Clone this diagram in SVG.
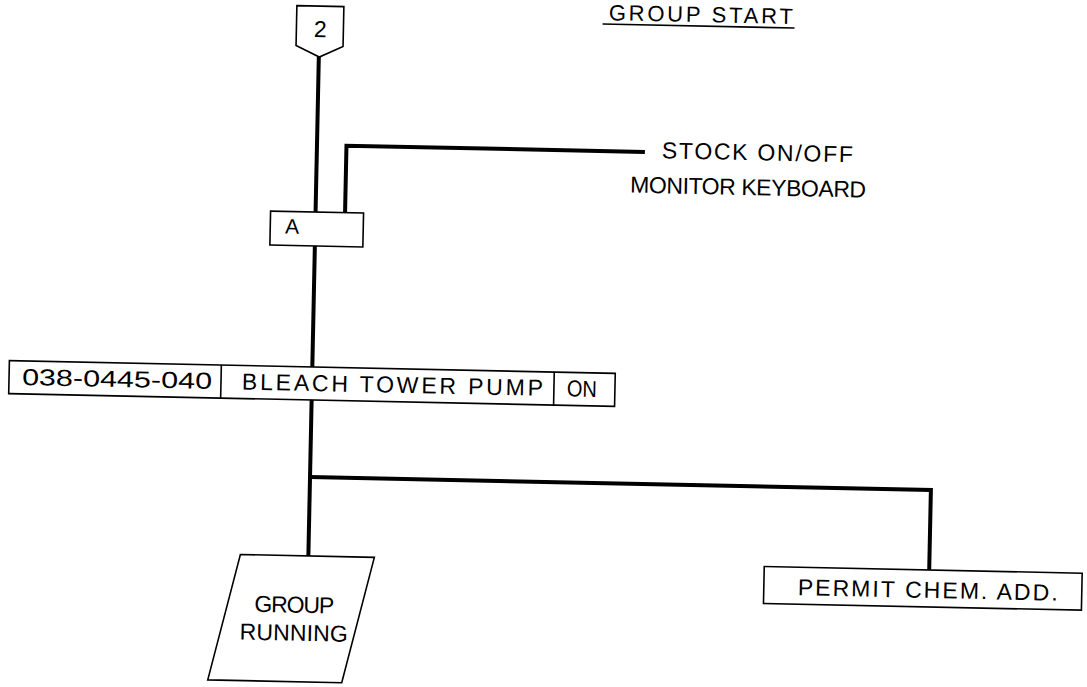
<svg xmlns="http://www.w3.org/2000/svg" width="1087" height="687" viewBox="0 0 1087 687">
<style>
.bx{fill:#fff;stroke:#000;stroke-width:1.6}
.cn{fill:none;stroke:#000;stroke-width:4}
.t{font-family:"Liberation Sans",Arial,sans-serif;font-size:23px;fill:#000}
</style>
<rect width="1087" height="687" fill="#fff"/>
<g transform="rotate(1.2 311 478)">
<g id="connectors">
<path class="cn" d="M310 57V212"/>
<path class="cn" d="M310 246V367"/>
<path class="cn" d="M310 400V556"/>
<path class="cn" d="M310 477H931V557"/>
<path class="cn" d="M339.5 212V145H638"/>
</g>
<g id="off-page-2">
<polygon class="bx" points="287,6 334,6 334,46 310.5,57 287,46"/>
<text class="t" x="311" y="37" text-anchor="middle">2</text>
</g>
<g id="group-start">
<text class="t" x="599" y="14" textLength="184" lengthAdjust="spacing" style="font-size:22px">GROUP START</text>
<line x1="593" y1="18" x2="785" y2="18" stroke="#000" stroke-width="1.6"/>
</g>
<g id="stock-label">
<text class="t" x="655" y="151" textLength="191" lengthAdjust="spacing">STOCK ON/OFF</text>
<text class="t" x="624" y="186" textLength="236" lengthAdjust="spacing">MONITOR KEYBOARD</text>
</g>
<g id="node-a">
<rect class="bx" x="265" y="212" width="93" height="34"/>
<text class="t" x="280" y="234" style="font-size:21px">A</text>
</g>
<g id="bleach-tower-pump">
<rect class="bx" x="7" y="367" width="606" height="33"/>
<line x1="219" y1="367" x2="219" y2="400" stroke="#000" stroke-width="1.6"/>
<line x1="552" y1="367" x2="552" y2="400" stroke="#000" stroke-width="1.6"/>
<text class="t" x="20" y="391" textLength="190" lengthAdjust="spacingAndGlyphs">038-0445-040</text>
<text class="t" x="240" y="391" textLength="301" lengthAdjust="spacing">BLEACH TOWER PUMP</text>
<text class="t" x="565" y="391" textLength="30" lengthAdjust="spacingAndGlyphs">ON</text>
</g>
<g id="group-running">
<polygon class="bx" points="242,556 376,556 346,682 212,682"/>
<text class="t" x="257" y="613" textLength="80" lengthAdjust="spacing">GROUP</text>
<text class="t" x="243" y="641" textLength="108" lengthAdjust="spacing">RUNNING</text>
</g>
<g id="permit-chem-add">
<rect class="bx" x="766" y="557" width="318" height="37"/>
<text class="t" x="800" y="585" textLength="260" lengthAdjust="spacing">PERMIT CHEM. ADD.</text>
</g>
</g>
</svg>
